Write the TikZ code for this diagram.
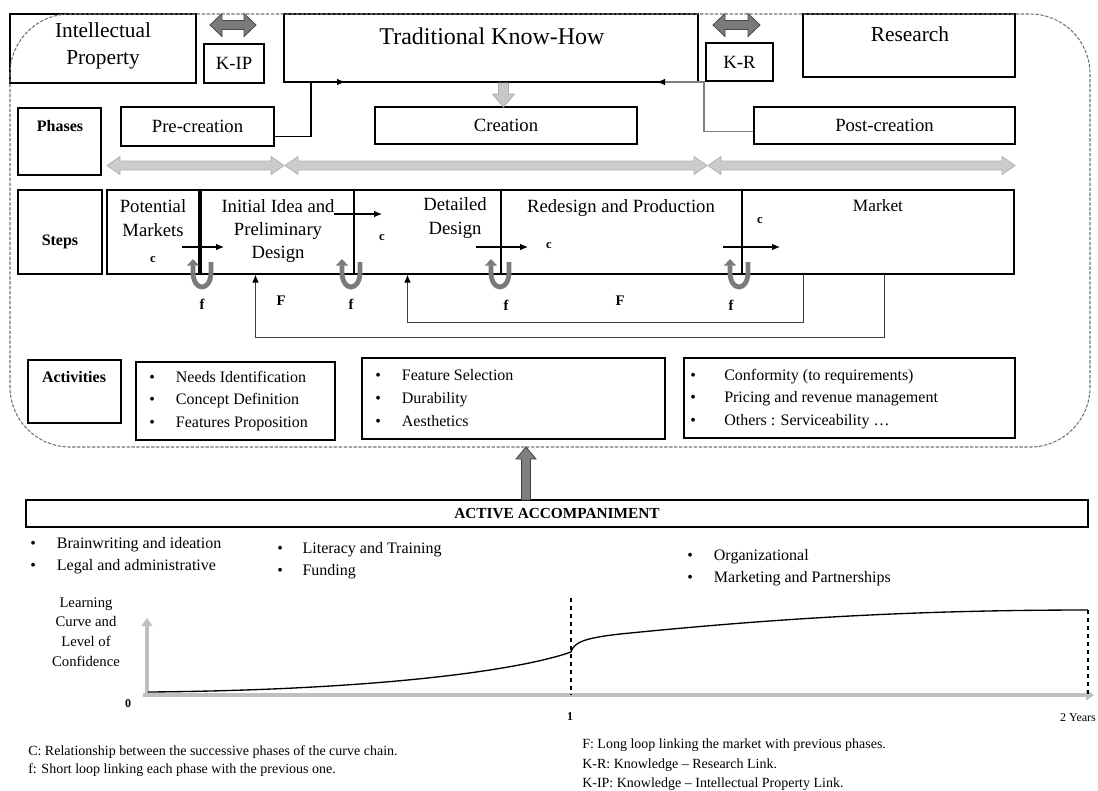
\documentclass[tikz,border=0pt]{standalone}
\usepackage{fontspec}
\setmainfont{Liberation Serif}
\usetikzlibrary{arrows.meta,fit,calc}

\tikzset{
  bx/.style={draw, line width=0.8pt, inner sep=0pt},
  hd/.style={font=\fontsize{12}{14}\selectfont\bfseries},
  ph/.style={font=\fontsize{14}{17}\selectfont},
  st/.style={font=\fontsize{14}{17.5}\selectfont, align=center},
  lst/.style={font=\fontsize{12}{17}\selectfont, align=left, anchor=west, inner sep=0pt},
  leg/.style={font=\fontsize{10.5}{13}\selectfont, anchor=west, inner sep=0pt},
  lbl/.style={font=\fontsize{9.5}{11}\selectfont\bfseries},
  conn/.style={line width=0.8pt, -{Latex[length=6pt,width=5pt,color=black]}},
  fb/.style={draw=black!75, line width=0.9pt, -{Latex[length=6pt,width=5pt,color=black]}},
  uturn/.style={draw=black!52, line width=3.6pt, -{Triangle[length=5pt,width=9pt]}},
  phasearr/.style={fill=black!20, draw=black!30, line width=0.6pt},
  linkarr/.style={fill=black!52, draw=black!72, line width=0.6pt},
  lightarr/.style={fill=black!22, draw=black!32, line width=0.6pt},
  darkarr/.style={fill=black!50, draw=black!75, line width=0.6pt},
  border/.style={draw=black!55, dash pattern=on 2.5pt off 1.2pt, line width=0.8pt, rounded corners=45pt},
  axis/.style={draw=black!25, line width=3.5pt, -{Triangle[length=6pt,width=8pt]}},
}

% horizontal two-headed block arrow: style, x1, x2, y, shaft half, head half, head length
\newcommand{\hdarrow}[7]{%
  \path[#1] (#2,#4) -- ({#2+#7},{#4-#6}) -- ({#2+#7},{#4-#5}) -- ({#3-#7},{#4-#5})
    -- ({#3-#7},{#4-#6}) -- (#3,#4) -- ({#3-#7},{#4+#6}) -- ({#3-#7},{#4+#5})
    -- ({#2+#7},{#4+#5}) -- ({#2+#7},{#4+#6}) -- cycle;}
\newcommand{\itm}[2][20pt]{\makebox[#1][l]{\textbullet}#2}

\begin{document}
\begin{tikzpicture}[x=0.75pt,y=-0.75pt]
\useasboundingbox (0,0) rectangle (1098,790);

% knowledge sources
\node[bx,fit={(10,14) (196,83)}] (ip) {};
\node[font=\fontsize{16}{20}\selectfont,align=center] (iptxt) at (103,46) {Intellectual\\Property};
\node[bx,fit={(204,44) (264,83)}] (kip) {};
\node[ph] (kiptxt) at (kip.center) {K-IP};
\node[bx,fit={(284,14) (698,82)}] (tkh) {};
\node[font=\fontsize{18}{22}\selectfont] (tkhtxt) at (492,36) {Traditional Know-How};
\node[bx,fit={(706,43) (773,81)}] (kr) {};
\node[ph] (krtxt) at (kr.center) {K-R};
\node[bx,fit={(803,14) (1015,77)}] (res) {};
\node[font=\fontsize{16}{20}\selectfont] (restxt) at (910,34) {Research};
\hdarrow{linkarr}{210}{256}{25}{4.5}{11.5}{12}
\hdarrow{linkarr}{713}{760}{25}{4.5}{11.5}{12}

% phases
\node[bx,fit={(18,108) (101,175)}] (phs) {};
\node[hd] (phstxt) at (60,126) {Phases};
\node[bx,fit={(121,107) (274,146)}] (pre) {};
\node[ph] (pretxt) at (pre.center) {Pre-creation};
\node[bx,fit={(375,107) (637,144)}] (cre) {};
\node[ph] (cretxt) at (cre.center) {Creation};
\node[bx,fit={(754,107) (1015,144)}] (post) {};
\node[ph] (posttxt) at (post.center) {Post-creation};
\coordinate (tkl) at (345,82);
\coordinate (tkr) at (657,82);
\draw[conn] ($(pre.south east)+(0,-10)$) -| (311,82) -- (tkl);
\draw[conn,draw=black!50] ($(post.south west)+(0,-13)$) -| (704,82) -- (tkr);
\path[lightarr] (498.5,83) -- (498.5,94) -- (492.5,94) -- (503.5,107) -- (514.5,94) -- (508.5,94) -- (508.5,83) -- cycle;
\hdarrow{phasearr}{107}{284}{165.5}{4.5}{9}{13}
\hdarrow{phasearr}{285}{707}{165.5}{4.5}{9}{13}
\hdarrow{phasearr}{708}{1015}{165.5}{4.5}{9}{13}

% steps
\node[bx,fit={(18,190) (102,274)}] (stp) {};
\node[hd] (stptxt) at (60,242) {Steps};
\node[bx,fit={(107,190) (199,274)}] (pm) {};
\node[st] (pmtxt) at (153,218) {Potential\\Markets};
\node[bx,fit={(201,190) (354,274)}] (iid) {};
\node[st] (iidtxt) at (278,231) {Initial Idea and\\Preliminary\\Design};
\node[bx,fit={(354,190) (501,274)}] (dd) {};
\node[st] (ddtxt) at (455,218) {Detailed\\Design};
\node[bx,fit={(501,190) (742,274)}] (rp) {};
\node[st] (rptxt) at (621,208) {Redesign and Production};
\node[bx,fit={(742,190) (1014,274)}] (mkt) {};
\node[font=\fontsize{13}{15}\selectfont] (mkttxt) at (878,206) {Market};

\foreach \a/\b/\y [count=\i] in {182/224/247, 334/382/214, 476/528/247, 723/780/247} {
  \coordinate (cs\i) at (\a,\y);
  \coordinate (ce\i) at (\b,\y);
  \draw[conn] (cs\i) -- (ce\i);
}
\foreach \x/\y [count=\i] in {153/260, 382/238, 549/246, 760/221}
  \node[lbl] (c\i) at (\x,\y) {c};

\foreach \x in {202,351,500,739}
  \draw[uturn] (\x+9,262) -- (\x+9,272) .. controls (\x+9,292) and (\x-9,292) .. (\x-9,272) -- (\x-9,259);
\foreach \x/\y [count=\i] in {202/304, 351/304, 506/305, 731/305}
  \node[lbl,font=\fontsize{11}{13}\selectfont\bfseries] (f\i) at (\x,\y) {f};
\node[lbl,font=\fontsize{11}{13}\selectfont\bfseries] (F1) at (281,301) {F};
\node[lbl,font=\fontsize{11}{13}\selectfont\bfseries] (F2) at (620,301) {F};

\draw[fb] ($(mkt.south west)+(62,0)$) -- ++(0,48) -| ($(dd.south west)+(54,0)$);
\draw[fb] ($(mkt.south west)+(143,0)$) -- ++(0,63) -| ($(iid.south west)+(55,0)$);

% activities
\node[bx,fit={(28,360) (121,423)}] (act) {};
\node[hd] (acttxt) at (74,377) {Activities};
\node[bx,fit={(136,362) (335,440)}] (a1) {};
\node[lst] (a1txt) at (149,401) {\itm{Needs Identification}\\\itm{Concept Definition}\\\itm{Features Proposition}};
\node[bx,fit={(362,358) (665,439)}] (a2) {};
\node[lst] (a2txt) at (375,398) {\itm{Feature Selection}\\\itm{Durability}\\\itm{Aesthetics}};
\node[bx,fit={(684,358) (1015,438)}] (a3) {};
\node[lst] (a3txt) at (690,399) {\itm[25.5pt]{Conformity (to requirements)}\\\itm[25.5pt]{Pricing and revenue management}\\\itm[25.5pt]{Others : Serviceability \dots}};

\path[border] (10,14) rectangle (1090,447);

% accompaniment
\node[bx,fit={(26,500) (1088,527)}] (acc) {};
\node[font=\fontsize{11.5}{14}\selectfont\bfseries] (acctxt) at (acc.center) {ACTIVE ACCOMPANIMENT};
\path[darkarr] (521.5,500) -- (521.5,459) -- (516,459) -- (526,447) -- (536,459) -- (530.5,459) -- (530.5,500) -- cycle;
\node[lst,font=\fontsize{12}{16.5}\selectfont] (l1) at (30,556) {\itm{Brainwriting and ideation}\\\itm{Legal and administrative}};
\node[lst,font=\fontsize{12}{17}\selectfont] (l2) at (277,560.5) {\itm[19pt]{Literacy and Training}\\\itm[19pt]{Funding}};
\node[lst,font=\fontsize{12}{16.5}\selectfont] (l3) at (687,568) {\itm{Organizational}\\\itm{Marketing and Partnerships}};

% learning curve
\coordinate (xa) at (143,695);
\coordinate (xb) at (1094,695);
\coordinate (ya) at (147,697);
\coordinate (yb) at (147,618);
\draw[axis] (xa) -- (xb);
\draw[axis] (ya) -- (yb);
\node[font=\fontsize{11}{14.8}\selectfont,align=center] (ylab) at (86,632) {Learning\\Curve and\\Level of\\Confidence};
\coordinate (m1a) at (571,598);
\coordinate (m1b) at (571,695);
\coordinate (m2a) at (1088,610);
\coordinate (m2b) at (1088,695);
\draw[dashed,line width=0.8pt] (m1a) -- (m1b);
\draw[dashed,line width=0.8pt] (m2a) -- (m2b);
\draw[line width=1pt] (148,692) .. controls (380,690) and (520,670) .. (571,652)
  .. controls (574,642) and (585,638) .. (620,634)
  .. controls (760,620) and (900,610) .. (1088,610);
\node[lbl,font=\fontsize{9}{11}\selectfont\bfseries] (t0) at (128,704) {0};
\node[lbl,font=\fontsize{9}{11}\selectfont\bfseries] (t1) at (570,717) {1};
\node[font=\fontsize{9}{11}\selectfont] (t2) at (1078,718) {2 Years};

% legend
\node[leg] (legC) at (28,752) {C: Relationship between the successive phases of the curve chain.};
\node[leg] (legf) at (28,770) {f: Short loop linking each phase with the previous one.};
\node[leg] (legF) at (582,745) {F: Long loop linking the market with previous phases.};
\node[leg] (legKR) at (582,765) {K-R: Knowledge -- Research Link.};
\node[leg] (legKIP) at (582,784) {K-IP: Knowledge -- Intellectual Property Link.};
\end{tikzpicture}
\end{document}
